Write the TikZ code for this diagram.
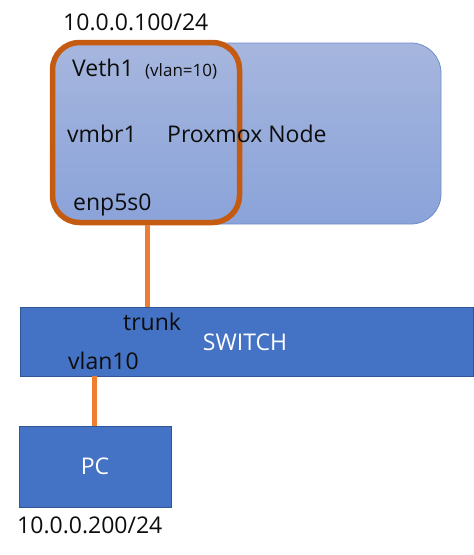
\documentclass[tikz,border=0pt]{standalone}
\usepackage{fontspec}
\setmainfont{Open Sans}
\definecolor{nodetop}{HTML}{A6B6DE}
\definecolor{nodebot}{HTML}{8AA3D9}
\definecolor{nodeedge}{HTML}{6F8CCB}
\definecolor{vmorange}{HTML}{C55A11}
\definecolor{linkorange}{HTML}{ED7D31}
\definecolor{swblue}{HTML}{4472C4}
\definecolor{swedge}{HTML}{2F5597}
\definecolor{txt}{HTML}{0D0D0D}
\begin{document}
\begin{tikzpicture}[x=1pt,y=-1pt,
  lbl/.style={font=\fontsize{23}{25}\selectfont, text=txt, inner sep=0pt, anchor=base west},
  whitelbl/.style={font=\fontsize{23}{25}\selectfont, text=white, inner sep=0pt},
  boxblue/.style={draw=swedge, fill=swblue, line width=1pt, inner sep=0pt},
  link/.style={draw=linkorange, line width=5pt}]
\useasboundingbox (0,0) rectangle (474,555);
% Proxmox node
\node[draw=nodeedge, line width=0.8pt, rounded corners=30pt, top color=nodetop, bottom color=nodebot,
  minimum width=389pt, minimum height=181pt, inner sep=0pt] (pve) at (246.5,133.5) {};
% orange VM box
\node[draw=vmorange, line width=5.5pt, rounded corners=27pt,
  minimum width=187pt, minimum height=180pt, inner sep=0pt] (vm) at (146,132.5) {};
% labels in node
\node[lbl] (ip1) at (63,30) {10.0.0.100/24};
\node[lbl] (veth) at (72,76) {Veth1};
\node[lbl, font=\fontsize{17}{19}\selectfont] (vlan) at (145,76) {(vlan=10)};
\node[lbl] (vmbr) at (67,142) {vmbr1};
\node[lbl] (pxn) at (167,142) {Proxmox Node};
\node[lbl] (enp) at (73,210) {enp5s0};
% switch
\node[boxblue, minimum width=453pt, minimum height=69pt] (sw) at (246.5,341.5) {};
\node[whitelbl] (swl) at (245,342) {SWITCH};
\node[lbl] (trunk) at (123,330) {trunk};
\node[lbl] (vl10) at (68,369) {vlan10};
% PC
\node[boxblue, minimum width=152pt, minimum height=81pt] (pc) at (95,466.5) {};
\node[whitelbl] (pcl) at (pc.center) {PC};
\node[lbl] (ip2) at (17,533) {10.0.0.200/24};
% links
\coordinate (a1) at (147,225);
\coordinate (a2) at (147,307);
\coordinate (b1) at (94,376);
\coordinate (b2) at (94,426);
\draw[link] (a1) -- (a2);
\draw[link] (b1) -- (b2);
\end{tikzpicture}
\end{document}
